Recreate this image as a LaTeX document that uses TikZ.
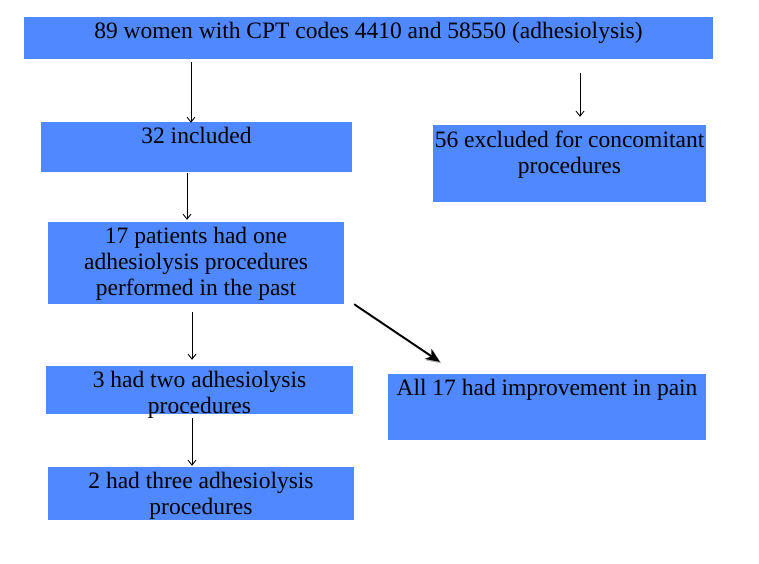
\documentclass[tikz,border=0pt]{standalone}
\usepackage{fontspec}
\setmainfont{Liberation Serif}
\usetikzlibrary{arrows.meta}
\definecolor{boxblue}{RGB}{79,136,255}

\begin{document}
\begin{tikzpicture}[x=1pt,y=-1pt,
	box/.style={fill=boxblue,inner sep=0pt,minimum width=#1},
	txt/.style={anchor=base,align=center,inner sep=0pt,font=\fontsize{23.5}{26}\selectfont},
	arr/.style={-{Straight Barb[length=5pt,width=8pt]},line width=0.9pt},
	bigarr/.style={-{Stealth[length=14pt,width=12pt,inset=4pt]},line width=1.8pt}]
	\useasboundingbox (0,0) rectangle (759,563);
	% boxes
	\node[box=689pt,minimum height=42pt](top) at (368.5,38) {};
	\node[box=311pt,minimum height=50pt](incl) at (196.5,147) {};
	\node[box=273pt,minimum height=77pt](excl) at (569.5,163.5) {};
	\node[box=296pt,minimum height=82pt](past) at (196,263) {};
	\node[box=307pt,minimum height=48pt](two) at (199.5,390) {};
	\node[box=306pt,minimum height=53pt](three) at (201,493.5) {};
	\node[box=318pt,minimum height=66pt](pain) at (547,407) {};
	% texts (base = last line)
	\node[txt](t-top) at ([yshift=-22pt]top.north) {89 women with CPT codes 4410 and 58550 (adhesiolysis)};
	\node[txt](t-incl) at ([yshift=-22pt]incl.north) {32 included};
	\node[txt](t-excl) at ([yshift=-49pt]excl.north) {56 excluded for concomitant\\procedures};
	\node[txt](t-past) at ([yshift=-74pt]past.north) {17 patients had one\\adhesiolysis procedures\\performed in the past};
	\node[txt](t-two) at ([yshift=-48pt]two.north) {3 had two adhesiolysis\\procedures};
	\node[txt](t-three) at ([yshift=-48pt]three.north) {2 had three adhesiolysis\\procedures};
	\node[txt](t-pain) at ([yshift=-22pt]pain.north) {All 17 had improvement in pain};
	% arrows
	\draw[arr] ([xshift=-177.5pt,yshift=-3pt]top.south) -- ([xshift=-5.5pt,yshift=-1pt]incl.north);
	\draw[arr] ([xshift=211.5pt,yshift=-14pt]top.south) -- ([xshift=10.5pt,yshift=8pt]excl.north);
	\draw[arr] ([xshift=-9.5pt,yshift=-1pt]incl.south) -- ([xshift=-9pt,yshift=2pt]past.north);
	\draw[arr] ([xshift=-4pt,yshift=-8pt]past.south) -- ([xshift=-7.5pt,yshift=6pt]two.north);
	\draw[arr] ([xshift=-7.5pt,yshift=-4pt]two.south) -- ([xshift=-9pt,yshift=1pt]three.north);
	\draw[bigarr,black!30] ([xshift=11.5pt,yshift=-1.5pt]past.south east) -- ([xshift=53.5pt,yshift=10.5pt]pain.north west);
	\draw[bigarr] ([xshift=10pt]past.south east) -- ([xshift=52pt,yshift=12pt]pain.north west);
\end{tikzpicture}
\end{document}
